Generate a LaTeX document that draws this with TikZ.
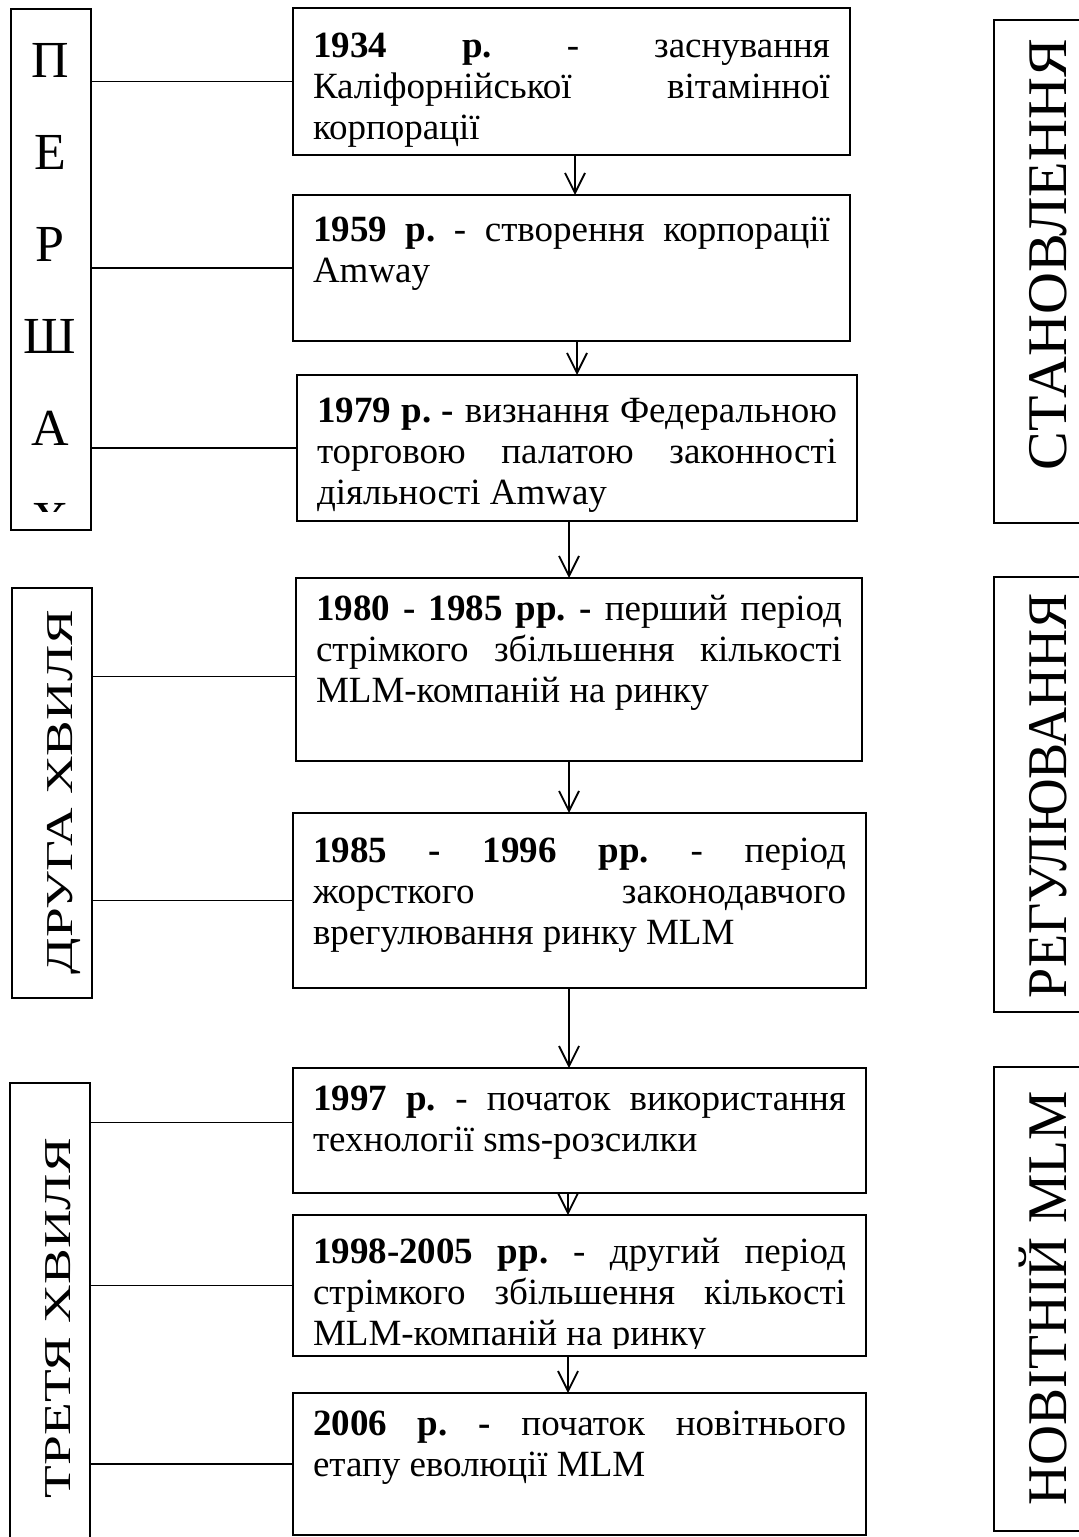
\documentclass[tikz,border=0pt]{standalone}
\usepackage{fontspec}
\setmainfont{Liberation Serif}
\usepackage{graphicx}
\usetikzlibrary{arrows.meta}

\tikzset{
  event/.style={draw, line width=0.9pt, anchor=north west, outer sep=0pt,
    inner xsep=10pt, inner ysep=0pt, align=justify,
    font=\fontsize{18.5}{20.5}\selectfont},
  wave/.style={draw, line width=0.9pt, anchor=north west, outer sep=0pt, inner sep=0pt},
  wavetext/.style={rotate=90, anchor=base, inner sep=0pt, font=\fontsize{19}{19}\selectfont},
  stagetext/.style={rotate=90, anchor=base, inner sep=0pt, font=\fontsize{28}{28}\selectfont},
  link/.style={line width=0.9pt},
  arr/.style={line width=0.9pt, -{Straight Barb[length=10pt,width=10pt]}}
}
\tolerance=10000
\frenchspacing

\begin{document}
\begin{tikzpicture}[x=0.5pt,y=-0.5pt]
\useasboundingbox (0,0) rectangle (1078,1537);

% events
\node[event,text width=258.5pt,text height=24.5pt,text depth=49pt] (e1) at (293,8)
  {\textbf{1934 р.} - заснування\linebreak Каліфорнійської вітамінної\linebreak корпорації};
\node[event,text width=258.5pt,text height=23pt,text depth=50pt] (e2) at (293,195)
  {\textbf{1959 р.} - створення корпорації\linebreak Amway};
\node[event,text width=260pt,text height=23.5pt,text depth=49.5pt] (e3) at (297,375)
  {\textbf{1979 р. -} визнання Федеральною\linebreak торговою палатою законності\linebreak діяльності Amway};
\node[event,text width=263pt,text height=21pt,text depth=70.5pt] (e4) at (296,578)
  {\textbf{1980 - 1985 рр. -} перший період\linebreak стрімкого збільшення кількості\linebreak MLM-компаній на ринку};
\node[event,text width=266.5pt,text height=24.5pt,text depth=63pt] (e5) at (293,813)
  {\textbf{1985 - 1996 рр.} - період\linebreak жорсткого законодавчого\linebreak врегулювання ринку MLM};
\node[event,text width=266.5pt,text height=21pt,text depth=41.5pt] (e6) at (293,1068)
  {\textbf{1997 р.} - початок використання\linebreak технології sms-розсилки};
\begin{scope}
  \clip (280,1200) rectangle (880,1348);
  \node[event,draw=none,text width=266.5pt,text height=24pt,text depth=46.5pt] (e7) at (293,1215)
    {\textbf{1998-2005 рр.} - другий період\linebreak стрімкого збільшення кількості\linebreak MLM-компаній на ринку};
\end{scope}
\draw[link] (e7.north west) rectangle (e7.south east);
\node[event,text width=266.5pt,text height=21pt,text depth=50pt] (e8) at (293,1393)
  {\textbf{2006 р. -} початок новітнього\linebreak етапу еволюції MLM};

\draw[arr] (575,0 |- e1.south) -- (575,0 |- e2.north);
\draw[arr] (577,0 |- e2.south) -- (577,0 |- e3.north);
\draw[arr] (569,0 |- e3.south) -- (569,0 |- e4.north);
\draw[arr] (569,0 |- e4.south) -- (569,0 |- e5.north);
\draw[arr] (569,0 |- e5.south) -- (569,0 |- e6.north);
\draw[arr] (568,0 |- e6.south) -- (568,0 |- e7.north);
\draw[arr] (568,0 |- e7.south) -- (568,0 |- e8.north);

% waves
\node[wave,minimum width=40pt,minimum height=260.5pt] (w1) at (11,9) {};
\begin{scope}
  \clip (11,9) rectangle (91,511);
  \foreach \l [count=\i from 0] in {П,Е,Р,Ш,А,Х}
    \node[font=\fontsize{26}{26}\selectfont] (p\i) at (50,60+92*\i) {\l};
\end{scope}
\node[wave,minimum width=40pt,minimum height=205pt] (w2) at (12,588) {};
\node[wavetext] (t2) at (72,792) {\resizebox{182pt}{\height}{ДРУГА ХВИЛЯ}};
\node[wave,minimum width=40pt,minimum height=240pt] (w3) at (10,1083) {};
\node[wavetext] (t3) at (70,1318) {\resizebox{180pt}{\height}{ТРЕТЯ ХВИЛЯ}};

\draw[link] (w1.east |- e1.west) -- (e1.west);
\draw[link] (w1.east |- e2.west) -- (e2.west);
\draw[link] (w1.east |- e3.west) -- (e3.west);
\draw[link] ([yshift=-3.5pt]e4.west -| w2.east) -- ([yshift=-3.5pt]e4.west);
\draw[link] (w2.east |- e5.west) -- (e5.west);
\draw[link] ([yshift=4pt]e6.west -| w3.east) -- ([yshift=4pt]e6.west);
\draw[link] (w3.east |- e7.west) -- (e7.west);
\draw[link] (w3.east |- e8.west) -- (e8.west);

% stages
\node[wave,minimum width=53pt,minimum height=251.5pt] (s1) at (994,20) {};
\node[stagetext] (u1) at (1066,254.5) {\resizebox{215.5pt}{\height}{СТАНОВЛЕННЯ}};
\node[wave,minimum width=53pt,minimum height=217.5pt] (s2) at (994,577) {};
\node[stagetext] (u2) at (1066,795.5) {\resizebox{202.5pt}{\height}{РЕГУЛЮВАННЯ}};
\node[wave,minimum width=53pt,minimum height=232pt] (s3) at (994,1067) {};
\node[stagetext] (u3) at (1066,1298) {\resizebox{207pt}{\height}{НОВІТНІЙ MLM}};
\end{tikzpicture}
\end{document}
